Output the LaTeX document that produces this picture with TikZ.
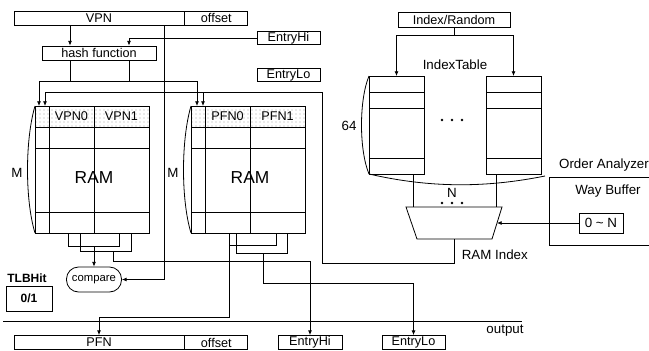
\documentclass[tikz,border=0pt]{standalone}
\usepackage{fontspec}
\setmainfont{Liberation Sans}
\usetikzlibrary{arrows.meta,positioning,patterns,calc}

\begin{document}
\begin{tikzpicture}[
    x=0.75pt, y=-0.75pt,
    line width=0.6pt,
    font=\fontsize{10}{12}\selectfont,
    box/.style={draw, inner sep=0pt, minimum height=10.5pt, font=\fontsize{9.5}{11}\selectfont},
    hdr/.style={pattern=dots, pattern color=gray!70},
    flow/.style={-{Latex[length=3.5pt,width=3pt]}},
    boldlbl/.style={font=\fontsize{9}{11}\selectfont\bfseries},
    ramtxt/.style={font=\fontsize{13}{15}\selectfont},
]
\useasboundingbox (0,0) rectangle (649,350);
\clip (0,0) rectangle (649,350);

% =====================  INPUT REGISTERS  =====================
\node[box, minimum width=127.5pt]              (vpn)  at (99,18)    {VPN};
\node[box, minimum width=47.25pt, right=0pt of vpn] (voff) {offset};
\node[box, minimum width=85.5pt]               (hash) at (99,53)    {hash function};
\node[box, minimum width=47.25pt, minimum height=9.75pt] (ehi) at (288.5,38) {EntryHi};
\node[box, minimum width=47.25pt, minimum height=9.75pt] (elo) at (288.5,75) {EntryLo};

% =====================  THE TWO RAMS  =====================
\foreach \mx/\na/\nb/\mm in {35/VPN0/VPN1/vmem, 191/PFN0/PFN1/pmem} {
  \fill[hdr] (\mx,106) rectangle (\mx+114,127);
  \draw (\mx,106) rectangle (\mx+114,233);
  \foreach \ry in {127,148,212}
    \draw (\mx,\ry) -- (\mx+114,\ry);
  \draw (\mx+14,106) -- (\mx+14,233);
  \draw (\mx+59,106) -- (\mx+59,233);
  \node (\mm-a)   at (\mx+36.5,116.5) {\fontsize{9.5}{11}\selectfont\na};
  \node (\mm-b)   at (\mx+86.5,116.5) {\fontsize{9.5}{11}\selectfont\nb};
  \node[ramtxt] (\mm-ram) at (\mx+59,178) {RAM};
  \draw (\mx,106) .. controls (\mx-10,140) and (\mx-10,200) .. (\mx,233);
  \node (\mm-m)   at (\mx-18,173) {M};
}
\coordinate (vbot) at (35,233);
\coordinate (pbot) at (191,233);

% =====================  INDEX TABLE  =====================
\node[box, minimum width=84pt, minimum height=11.25pt] (idx) at (454,19.5) {Index/Random};
\node (itab) at (455,65) {IndexTable};
\foreach \tx/\tn in {369/tl, 486/tr} {
  \coordinate (\tn) at (\tx,76);
  \draw (\tx,76) rectangle (\tx+55,174);
  \foreach \ty in {92,108,158}
    \draw (\tx,\ty) -- (\tx+55,\ty);
}
\foreach \dx in {-10,0,10} {
  \fill (452+\dx,120) circle (1.3);
  \fill (452+\dx,203) circle (1.3);
}
\draw (369,76) .. controls (359,100) and (359,150) .. (369,174);
\node (n64) at (349,126) {64};
\draw (369,174) .. controls (430,188) and (485,188) .. (545,176);
\node (nn) at (452,193) {N};

% way multiplexer
\draw (406,207) -- (502,207) -- (492,239) -- (417,239) -- cycle;
\coordinate (muxb) at (454.5,239);
\coordinate (muxr) at (497,223);
\draw (413,174) -- (413,207);
\draw (496,174) -- (496,207);
\node[anchor=west] (ramidx) at (457,255) {RAM Index};

% =====================  ORDER ANALYZER  =====================
\draw (660,177) -- (549,177) -- (549,245) -- (660,245);
\node (oan) at (604,165) {Order Analyzer};
\node (wbuf) at (608,191) {Way Buffer};
\node[box, minimum width=33pt, minimum height=15pt, font=\fontsize{10}{12}\selectfont] (way) at (601,223) {0 \textasciitilde{} N};

% =====================  COMPARE / OUTPUT  =====================
\node[draw, rounded corners=9pt, minimum width=41.25pt, minimum height=18.75pt,
      inner sep=0pt, font=\fontsize{8.5}{10}\selectfont] (cmp) at (94,279.5) {compare};
\node[boldlbl] (tlbhit) at (27,278) {TLBHit};
\node[box, boldlbl, minimum width=34.5pt, minimum height=18.75pt] (tlb) at (29,298.5) {0/1};

\draw (3,321) -- (522,321);
\node (outlbl) at (505,331) {output};
\node[box, minimum width=127.5pt]              (pfn)  at (99,342.5)  {PFN};
\node[box, minimum width=47.25pt, right=0pt of pfn] (poff) {offset};
\node[box, minimum width=48pt]                 (ohi)  at (310,342.5) {EntryHi};
\node[box, minimum width=47.25pt]              (olo)  at (413.5,342.5) {EntryLo};

% =====================  CONNECTIONS  =====================
\coordinate (vtap)  at (70,25);
\coordinate (vcmp)  at (164,25);
\coordinate (hout1) at (70,60);
\coordinate (hout2) at (129,60);
\coordinate (hbus1) at (39,81);
\coordinate (hbus2) at (197,81);
\coordinate (vin1)  at (39,106);
\coordinate (pin1)  at (197,106);
\coordinate (vin2)  at (45,106);
\coordinate (pin2)  at (203,106);
\coordinate (rl1)   at (322,263);
\coordinate (rl2)   at (45,92);

\draw[flow] (vtap) -- (vtap |- hash.north);
\draw[flow] (ehi.west) -| (hash.north -| hout2);
\draw (hout1) -- (hout1 |- hbus1);
\draw (hout2) -- (hout2 |- hbus1);
\draw[flow] (hbus2) -- (hbus1) -- (vin1);
\draw[flow] (hbus2) -- (pin1);

% RAM index back to both RAMs
\draw[flow] (muxb) |- (rl1) |- (rl2) -- (vin2);
\draw[flow] (pin2 |- rl2) -- (pin2);

% VPN straight to compare
\draw[flow] (vcmp) |- (cmp.east);

% left RAM outputs
\draw ($(vbot)+(33,0)$) -- ++(0,13) -| ($(vbot)+(84,0)$);
\draw ($(vbot)+(45,0)$) -- ++(0,18) -| ($(vbot)+(96,0)$);
\draw[flow] ($(vbot)+(59,13)$) -- (cmp.north);
\draw[flow] ($(vbot)+(78,18)$) -- ++(0,10) -| (ohi.north);

% right RAM outputs
\draw ($(pbot)+(38,0)$) -- ++(0,12) -| ($(pbot)+(85,0)$);
\draw ($(pbot)+(45,0)$) -- ++(0,20) -| ($(pbot)+(96,0)$);
\draw[flow] ($(pbot)+(38,12)$) -- ++(0,72) -| (pfn.north);
\draw[flow] ($(pbot)+(72,20)$) -- ++(0,30) -| (olo.north);

% index table feed
\draw (idx.south) -- ++(0,8) coordinate (ibus);
\draw[flow] (ibus) -| ($(tl)+(27.5,0)$);
\draw[flow] (ibus) -| ($(tr)+(27.5,0)$);

% way buffer into the multiplexer
\draw[flow] (way.west) -- (way.west -| muxr);

\end{tikzpicture}
\end{document}
